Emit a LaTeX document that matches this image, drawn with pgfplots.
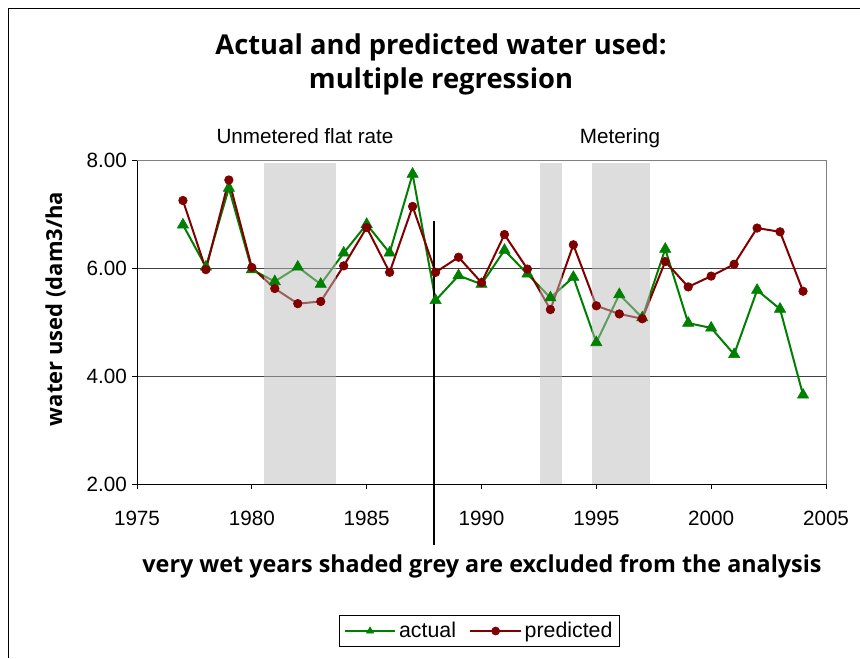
\documentclass[border=0pt]{standalone}
\usepackage{fontspec}
\setmainfont{Liberation Sans}
\newfontfamily\hum{Open Sans}
\usepackage{pgfplots}
\pgfplotsset{compat=1.18}
\definecolor{act}{RGB}{0,128,0}
\definecolor{pred}{RGB}{128,0,0}
\definecolor{wetgrey}{RGB}{187,187,187}
\begin{document}
\begin{tikzpicture}
\path[use as bounding box] (0,0) rectangle (645pt,-493.5pt);
\draw[line width=0.75pt] (6pt,-493.5pt) -- (6pt,-6pt) -- (645pt,-6pt);
\begin{axis}[
  at={(102.75pt,-363pt)}, anchor=south west,
  scale only axis, width=516.75pt, height=243pt,
  xmin=1975, xmax=2005, ymin=2, ymax=8,
  axis lines=left, axis line style={-, line width=0.75pt, black},
  xtick={1975,1980,...,2005}, ytick={2,4,6,8},
  tick align=outside, major tick length=4pt,
  tick style={black, line width=0.75pt},
  ymajorgrids, major grid style={black!75, line width=0.75pt},
  clip=false,
  ticklabel style={font=\fontsize{15.5}{18}\selectfont},
  /pgf/number format/assume math mode=true,
  xticklabel style={/pgf/number format/1000 sep={}, yshift=-13pt},
  yticklabel style={/pgf/number format/.cd, fixed, fixed zerofill, precision=2},
  legend columns=2,
  legend style={at={(0.497,-0.4537)}, anchor=center, draw=black, line width=0.75pt,
    font=\fontsize{16}{18}\selectfont, inner sep=3pt,
    /tikz/every even column/.append style={column sep=8pt}},
  legend image code/.code={\draw[#1,mark repeat=2,mark phase=2,mark size=3pt] plot coordinates {(0pt,0pt) (19pt,0pt) (38pt,0pt)};},
]
\draw[black!50, line width=0.75pt] (rel axis cs:0,1) -- (rel axis cs:1,1) -- (rel axis cs:1,0);
\addplot[color=act, line width=1.5pt, mark=triangle*, mark size=4.8pt, mark options={line width=0.5pt}] coordinates {
(1977,6.80) (1978,6.02) (1979,7.48) (1980,5.97) (1981,5.75) (1982,6.02) (1983,5.70)
(1984,6.28) (1985,6.81) (1986,6.28) (1987,7.74) (1988,5.40) (1989,5.86) (1990,5.70)
(1991,6.33) (1992,5.89) (1993,5.45) (1994,5.83) (1995,4.62) (1996,5.51) (1997,5.08)
(1998,6.35) (1999,4.98) (2000,4.89) (2001,4.40) (2002,5.59) (2003,5.24) (2004,3.65)};
\addlegendentry{actual}
\addplot[color=pred, line width=1.5pt, mark=*, mark size=3.2pt, mark options={line width=0.5pt}] coordinates {
(1977,7.25) (1978,5.97) (1979,7.63) (1980,6.01) (1981,5.62) (1982,5.34) (1983,5.38)
(1984,6.04) (1985,6.75) (1986,5.92) (1987,7.14) (1988,5.92) (1989,6.20) (1990,5.73)
(1991,6.62) (1992,5.98) (1993,5.23) (1994,6.43) (1995,5.30) (1996,5.15) (1997,5.06)
(1998,6.12) (1999,5.65) (2000,5.85) (2001,6.07) (2002,6.74) (2003,6.67) (2004,5.57)};
\addlegendentry{predicted}
\fill[wetgrey, fill opacity=0.5] (axis cs:1980.53,2) rectangle (axis cs:1983.65,7.94);
\fill[wetgrey, fill opacity=0.5] (axis cs:1992.54,2) rectangle (axis cs:1993.49,7.94);
\fill[wetgrey, fill opacity=0.5] (axis cs:1994.8,2) rectangle (axis cs:1997.33,7.94);
\draw[black, line width=1pt] (axis cs:1987.93,6.87) -- (axis cs:1987.93,0.87);
\end{axis}
\node[anchor=base, font=\hum\bfseries\fontsize{20.5}{24}\selectfont] at (330.75pt,-40.5pt) {Actual and predicted water used:};
\node[anchor=base, font=\hum\bfseries\fontsize{20.5}{24}\selectfont] at (330.75pt,-66pt) {multiple regression};
\node[anchor=base, font=\fontsize{15.5}{18}\selectfont] at (228.75pt,-107.25pt) {Unmetered flat rate};
\node[anchor=base, font=\fontsize{15.5}{18}\selectfont] at (465pt,-107.25pt) {Metering};
\node[anchor=base, font=\hum\bfseries\fontsize{17.5}{20}\selectfont] at (361.5pt,-429pt) {very wet years shaded grey are excluded from the analysis};
\node[rotate=90, anchor=base, font=\hum\bfseries\fontsize{16.5}{19}\selectfont] at (46.5pt,-231.75pt) {water used (dam3/ha};
\end{tikzpicture}
\end{document}
